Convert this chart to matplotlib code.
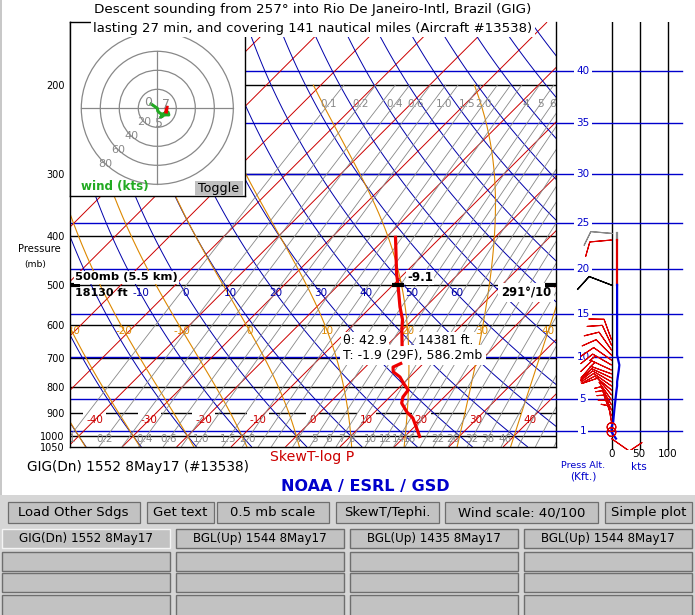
import numpy as np
import matplotlib
matplotlib.use("Agg")
import matplotlib.pyplot as plt
from matplotlib.patches import Rectangle, Circle
import matplotlib.transforms as mtransforms

plt.rcParams['font.family'] = ['DejaVu Sans']

# ---------------- data ----------------
title1 = "Descent sounding from 257\u00b0 into Rio De Janeiro-Intl, Brazil (GIG)"
title2 = "lasting 27 min, and covering 141 nautical miles (Aircraft #13538)"
station_label = "GIG(Dn) 1552 8May17 (#13538)"

pressure_ticks = [200, 300, 400, 500, 600, 700, 800, 900, 1000, 1050]
isobars = [200, 300, 400, 500, 600, 700, 800, 900, 1000]
alt_kft = [1, 5, 10, 15, 20, 25, 30, 35, 40]
isotherms = list(range(-130, 60, 10))
isotherm_labels = [-40, -30, -20, -10, 0, 10, 20, 30, 40]
theta_lines = list(range(-50, 170, 10))
theta_labels = [-10, 0, 10, 20, 30, 40, 50, 60, 70]
thetaw_lines = list(range(-40, 60, 10))
thetaw_labels = [-30, -20, -10, 0, 10, 20, 30, 40]
mix_lines = [0.1, 0.2, 0.3, 0.4, 0.6, 0.8, 1.0, 1.5, 2.0, 2.5, 3, 4, 5, 6, 7, 8,
             10, 12, 14, 16, 19, 22, 26, 32, 38, 46, 55, 66, 80]
mix_top_labels = [0.1, 0.2, 0.4, 0.6, 1.0, 1.5, 2.0, 4, 5, 6]
mix_bot_labels = [0.1, 0.2, 0.4, 0.6, 1.0, 1.5, 2.0, 4, 5, 6, 7, 8, 10, 12, 14,
                  16, 22, 26, 32, 38, 46]

# temperature trace (mb, degC); NaN = data gap
temp_p = [399, 474, 500, 553, 586.2, 615, 662, np.nan, 715, 729, 745, 763, 784,
          810, 836, 860, 896, 921, 955, 1009]
temp_t = [-18.6, -11.5, -9.1, -4.7, -1.9, -0.1, 2.9, np.nan, 6.0, 5.1, 6.0, 8.2,
          9.9, 12.1, 12.4, 13.3, 15.9, 18.1, 20.1, 23.1]

# winds (mb, deg, kts)
wind_p = [394, 407, 500, 643, 659, 674, 690, 706, 722, 739, 752, 766, 780, 795,
          810, 828, 848, 867, 888, 912, 938, 960, 982, 1012]
wind_dir = [275, 265, 291, 340, 335, 325, 315, 305, 300, 295, 290, 295, 300, 305,
            310, 320, 325, 330, 335, 340, 350, 0, 0, 125]
wind_spd = [10, 10, 10, 10, 10, 10, 10, 12, 14, 13, 12, 11, 10, 10, 9, 8, 7, 6, 5,
            4, 3, 0, 0, 8]
hodo_rings = [20, 40, 60, 80]
hodo_marks_kft = [0, 5, 7]
wind_ticks = [0, 50, 100]

# cursor readouts
cursor_p, cursor_km, cursor_ft, cursor_T = 500, 5.5, 18130, -9.1
cursor_dir, cursor_spd = 291, 10
probe_theta, probe_ft, probe_T, probe_F, probe_p = 42.9, 14381, -1.9, 29, 586.2

buttons_row1 = ["Load Other Sdgs", "Get text", "0.5 mb scale", "SkewT/Tephi.",
                "Wind scale: 40/100", "Simple plot"]
buttons_row2 = ["GIG(Dn) 1552 8May17", "BGL(Up) 1544 8May17",
                "BGL(Up) 1435 8May17", "BGL(Up) 1544 8May17"]

# ---------------- helpers ----------------
W, H = 695, 615
fig = plt.figure(figsize=(W / 100, H / 100), dpi=100)
fig.patch.set_facecolor('white')
renderer = fig.canvas.get_renderer()
PX = mtransforms.Affine2D().scale(1 / W, -1 / H).translate(0, 1) + fig.transFigure

RED = '#cc0000'
BLUE = '#0000aa'
ABLUE = '#0000cc'
ORANGE = '#dd8800'
GRAY = '#888888'

Y1000, PXLN = 436.0, 218.0      # pixel row of 1000 mb, pixels per ln(p)
X0, PXDEG = 296.4, 5.442        # pixel col of 0C at 1000 mb, pixels per degC
SKEW = PXLN / PXDEG


def ypx(p):
    return Y1000 - PXLN * np.log(1000.0 / p)


def skx(t, p):
    return np.asarray(t) + SKEW * np.log(1000.0 / np.asarray(p))


def fit(t, size, width):
    if width is not None:
        bb = t.get_window_extent(renderer=renderer)
        t.set_fontsize(size * width / bb.width)
    return t


def ftext(x, y, s, size=9, width=None, ax=None, **kw):
    kw.setdefault('ha', 'left')
    kw.setdefault('va', 'center')
    tgt = ax if ax is not None else fig
    t = tgt.text(x, y, s, fontsize=size, transform=PX, **kw)
    return fit(t, size, width)


def frect(x0, y0, x1, y1, **kw):
    r = Rectangle((x0, y1), x1 - x0, y0 - y1, transform=PX, **kw)
    fig.add_artist(r)
    return r


def std_p(kft):
    z = kft * 304.8
    if z <= 11000:
        return 1013.25 * (1 - 2.25577e-5 * z) ** 5.25588
    return 226.32 * np.exp(-(z - 11000) / 6341.62)


def sat_vp(tc):
    return 6.112 * np.exp(17.67 * tc / (tc + 243.5))


def dewpt_from_e(e):
    l = np.log(e / 6.112)
    return 243.5 * l / (17.67 - l)


Rd, Cp, Lv, EPS = 287.04, 1005.7, 2.501e6, 0.622


def moist_rate(tk, p):
    e = sat_vp(tk - 273.15)
    rs = EPS * e / (p - e)
    return (Rd * tk + Lv * rs) / (Cp + Lv * Lv * rs * EPS / (Rd * tk * tk))


def integ(t0, grid):
    T = [t0]
    for i in range(len(grid) - 1):
        l0, l1 = np.log(grid[i]), np.log(grid[i + 1])
        h = l1 - l0
        t = T[-1]
        k1 = moist_rate(t, np.exp(l0))
        k2 = moist_rate(t + h * k1 / 2, np.exp(l0 + h / 2))
        k3 = moist_rate(t + h * k2 / 2, np.exp(l0 + h / 2))
        k4 = moist_rate(t + h * k3, np.exp(l1))
        T.append(t + h * (k1 + 2 * k2 + 2 * k3 + k4) / 6)
    return np.array(T)


def moist_profile(thw, p_top=200.0, p_bot=1050.0):
    up = np.geomspace(1000.0, p_top, 160)
    dn = np.geomspace(1000.0, p_bot, 10)
    tu = integ(thw + 273.15, up)
    td = integ(thw + 273.15, dn)
    P = np.concatenate([dn[::-1], up[1:]])
    T = np.concatenate([td[::-1], tu[1:]]) - 273.15
    return P, T


def mix_label(w):
    return f"{w:.1f}" if w < 1 or w in (1.0, 1.5, 2.0) else f"{w:g}"


# ---------------- main skew-T axes ----------------
top_px, bot_px = ypx(150.0), ypx(1050.0)
ax = fig.add_axes([70 / W, 1 - bot_px / H, 486 / W, (bot_px - top_px) / H])
ax.set_yscale('log')
ax.set_ylim(1050, 150)
XL, XR = (70 - X0) / PXDEG, (556 - X0) / PXDEG
ax.set_xlim(XL, XR)
ax.set_xticks([])
ax.yaxis.set_minor_locator(matplotlib.ticker.NullLocator())
ax.set_yticks(pressure_ticks)
ax.set_yticklabels([str(p) for p in pressure_ticks])
ax.tick_params(axis='y', length=0, pad=4, labelsize=7)
ax.spines['top'].set_visible(False)
for s in ['left', 'right', 'bottom']:
    ax.spines[s].set_linewidth(1.0)

pp = np.geomspace(1050, 150, 80)
for t in isotherms:
    ax.plot(skx(t, pp), pp, color=RED, lw=0.7, zorder=2)
for th in theta_lines:
    tt = (th + 273.15) * (pp / 1000.0) ** 0.2857 - 273.15
    ax.plot(skx(tt, pp), pp, color=BLUE, lw=0.7, zorder=2)
for thw in thetaw_lines:
    P, T = moist_profile(thw)
    ax.plot(skx(T, P), P, color=ORANGE, lw=0.8, zorder=2)
pm = np.geomspace(1050, 200, 40)
for w in mix_lines:
    e = w * pm / (622.0 + w)
    ax.plot(skx(dewpt_from_e(e), pm), pm, color=GRAY, lw=0.6, zorder=2)

for p in isobars:
    ax.axhline(p, color='black', lw=1.0, zorder=1)
for z in alt_kft:
    ax.axhline(std_p(z), color=ABLUE, lw=1.0, zorder=1)

# labels
lab_p_iso = 929.0
for t in isotherm_labels:
    ax.text(skx(t, lab_p_iso), lab_p_iso, str(t), color=RED, fontsize=7.5,
            ha='center', va='center', zorder=1.5, clip_on=True,
            bbox=dict(facecolor='white', edgecolor='none', pad=2.2))
lab_p_th = 520.0
for th in theta_labels:
    tt = (th + 273.15) * (lab_p_th / 1000.0) ** 0.2857 - 273.15
    ax.text(skx(tt, lab_p_th), lab_p_th, str(th), color=BLUE, fontsize=7.5,
            ha='center', va='center', zorder=2.5, clip_on=True)
lab_p_w = 617.7
for thw in thetaw_labels:
    P, T = moist_profile(thw, p_top=lab_p_w)
    ax.text(skx(T[-1], lab_p_w), lab_p_w, str(thw), color=ORANGE, fontsize=7.5,
            ha='center', va='center', zorder=2.5, clip_on=True)
for plab, labs in [(218.1, mix_top_labels), (1014.0, mix_bot_labels)]:
    for w in labs:
        e = w * plab / (622.0 + w)
        ax.text(skx(dewpt_from_e(e), plab), plab, mix_label(w),
                color=GRAY, fontsize=7.5, ha='center', va='center', zorder=2.5,
                clip_on=True)

# temperature trace
ax.plot(skx(temp_t, temp_p), temp_p, color='#ee0000', lw=2.3, zorder=4,
        solid_capstyle='butt')

# cursor markers at 500 mb
xc = skx(cursor_T, cursor_p)
ax.plot([xc - 6 / PXDEG, xc + 6 / PXDEG], [cursor_p, cursor_p], color='black',
        lw=3, zorder=5, solid_capstyle='butt')
ax.plot([XL, XL + 10 / PXDEG], [cursor_p, cursor_p], color='black', lw=3,
        zorder=5, solid_capstyle='butt', clip_on=False)
ax.plot([XR - 11 / PXDEG, XR], [cursor_p, cursor_p], color='black', lw=3,
        zorder=6, solid_capstyle='butt', clip_on=False)

wb = dict(facecolor='white', edgecolor='none', pad=1.0)
ftext(75, 277.5, f"{cursor_p}mb ({cursor_km} km)", 9, 103, ax=ax,
      fontweight='bold', zorder=5, bbox=wb)
ftext(75, 292.5, f"{cursor_ft} ft", 9, 53, ax=ax, fontweight='bold', zorder=5)
ftext(407, 277.5, f"{cursor_T}", 9, 26, ax=ax, fontweight='bold', zorder=5,
      bbox=wb)
ftext(501, 292.5, f"{cursor_dir}\u00b0/{cursor_spd}", 9, 51, ax=ax,
      fontweight='bold', zorder=5.5, bbox=dict(facecolor='white',
                                                edgecolor='none', pad=2.0))
ftext(343, 341, f"\u03b8: {probe_theta}", 9, 44, ax=ax, zorder=3,
      bbox=dict(facecolor='white', edgecolor='none', pad=1.5))
ftext(418, 341, f"{probe_ft} ft.", 9, 55, ax=ax, zorder=3,
      bbox=dict(facecolor='white', edgecolor='none', pad=1.5))
ftext(343, 355, f"T: {probe_T} ({probe_F}F), {probe_p}mb", 9, 139, ax=ax,
      zorder=3, bbox=dict(facecolor='white', edgecolor='none', pad=2.5))

# ---------------- wind panel ----------------
wtop, wbot = ypx(150.0), 450.0
pbot_w = 1000.0 * np.exp((wbot - Y1000) / PXLN)
KX0, KPX = 611.5, 0.56
axw = fig.add_axes([556 / W, 1 - wbot / H, 134 / W, (wbot - wtop) / H])
axw.set_yscale('log')
axw.set_ylim(pbot_w, 150)
axw.set_xlim((556 - KX0) / KPX, (690 - KX0) / KPX)
axw.axis('off')
axw.patch.set_alpha(0)
for k in wind_ticks:
    axw.axvline(k, color='black', lw=1.0, zorder=1)
xr_frac = (682 - 556) / 134
klab = (583 - KX0) / KPX
for z in alt_kft:
    axw.axhline(std_p(z), xmin=0, xmax=xr_frac, color=ABLUE, lw=1.0, zorder=1)
    axw.text(klab, std_p(z), str(z), color=ABLUE, fontsize=7.5, ha='center',
             va='center', zorder=2,
             bbox=dict(facecolor='white', edgecolor='none', pad=1.5))

wp = np.array(wind_p, float)
ws = np.array(wind_spd, float)
wd = np.radians(np.array(wind_dir, float))
u = -ws * np.sin(wd)
v = -ws * np.cos(wd)
i500 = list(wind_p).index(cursor_p)
axw.plot(ws[:2], wp[:2], color=GRAY, lw=1.6, zorder=3)
axw.plot(ws[1:i500 + 1], wp[1:i500 + 1], color='#dd0000', lw=1.6, zorder=3)
axw.plot(ws[i500:], wp[i500:], color='#0000dd', lw=1.6, zorder=3)

bsz = dict(height=0.65, width=0.5, spacing=0.16, emptybarb=0.2)
idx_red = [i for i in range(1, len(wp)) if i != i500]
axw.barbs(np.zeros(1), wp[:1], u[:1], v[:1], length=5.6, flip_barb=True,
          barbcolor=GRAY, sizes=bsz, linewidth=0.8, zorder=4)
axw.barbs(np.zeros(len(idx_red)), wp[idx_red], u[idx_red], v[idx_red],
          length=5.6, flip_barb=True, barbcolor='#dd0000', sizes=bsz,
          linewidth=0.8, zorder=4)
axw.barbs([0], [cursor_p], [-cursor_spd * np.sin(np.radians(cursor_dir))],
          [-cursor_spd * np.cos(np.radians(cursor_dir))], length=6.0,
          flip_barb=True, barbcolor='black', sizes=bsz, linewidth=0.9, zorder=5)

for k, xk in zip(wind_ticks, [611.5, 639, 667.5]):
    ftext(xk, 454, str(k), 7.5, ha='center')
ftext(639, 466.5, "kts", 7.5, color=ABLUE, ha='center')
ftext(583, 465, "Press Alt.", 7.5, 44, color=ABLUE, ha='center')
ftext(583, 476.5, "(Kft.)", 7.5, 26, color=ABLUE, ha='center')

# ---------------- hodograph ----------------
HS = 0.95
hcx, hcy = 157.3, 108.3
hod = fig.add_axes([70 / W, 1 - 196 / H, 175 / W, 174 / H])
hod.set_zorder(5)
hod.set_xlim(-(hcx - 70) / HS, (245 - hcx) / HS)
hod.set_ylim(-(196 - hcy) / HS, (hcy - 22) / HS)
hod.set_xticks([])
hod.set_yticks([])
for s in hod.spines.values():
    s.set_linewidth(1.0)
for r in hodo_rings:
    hod.add_patch(Circle((0, 0), r, fill=False, edgecolor='#888888', lw=0.9))
    a = np.radians(227)
    hod.text(r * np.cos(a), r * np.sin(a), str(r), color='#888888', fontsize=8,
             ha='center', va='center')
hod.plot([-80, 80], [0, 0], color='#888888', lw=0.9)
hod.plot([0, 0], [-80, 60], color='#888888', lw=0.9)
hod.plot(u[i500:], v[i500:], color='#22aa22', lw=2.2, zorder=3)
hod.plot(u[1:i500 + 1], v[1:i500 + 1], color='#ee0000', lw=2.6, zorder=4)
lp = np.log(wp)
offs = {0: (-2.5, 1.5), 5: (-2.5, -9.5), 7: (1.0, 9.0)}
for z in hodo_marks_kft:
    pz = std_p(z) if z > 0 else wp[-1]
    uz = np.interp(np.log(pz), lp, u)
    vz = np.interp(np.log(pz), lp, v)
    dx, dy = offs[z]
    hod.text(uz + dx / HS, vz + dy / HS, str(z), color='#888888', fontsize=9,
             ha='center', va='center', zorder=5)

ftext(81, 186.5, "wind (kts)", 9.5, 68, color='#22aa22', fontweight='bold',
      zorder=12)
frect(195, 181, 243, 196, facecolor='#c0c0c0', edgecolor='none', zorder=11)
ftext(219, 188.5, "Toggle", 9, 41, ha='center', zorder=12)

# ---------------- titles & captions ----------------
ftext(313, 9.5, title1, 9.5, 440, ha='center', zorder=12)
ftext(313, 28.5, title2, 9.5, 442, ha='center', zorder=12,
      bbox=dict(facecolor='white', edgecolor='none', pad=1.5))
ftext(39, 249, "Pressure", 7, 43, ha='center')
ftext(35, 264, "(mb)", 7, 22, ha='center')
ftext(312.5, 457.5, "SkewT-log P", 10, 84, color='#cc0000', ha='center')
ftext(27, 467, station_label, 10, 222)
ftext(365, 486.5, "NOAA / ESRL / GSD", 12, 168, color=ABLUE,
      fontweight='bold', ha='center')
frect(0, 0, 2, 495, facecolor='#c8c8c8', edgecolor='none', zorder=12)

# ---------------- GUI buttons ----------------
frect(0, 495, 695, 615, facecolor='#d6d6d6', edgecolor='none', zorder=1)
row1 = [(7.5, 140), (147, 214), (217, 329), (336, 439), (445, 598), (605, 692)]
for (x0, x1), lab in zip(row1, buttons_row1):
    frect(x0, 502, x1, 523, facecolor='#c2c2c2', edgecolor='#6e6e6e', lw=0.9,
          zorder=2)
    ftext((x0 + x1) / 2, 512.5, lab, 9.5, ha='center', zorder=3)
cols = [(2, 170), (176, 344), (350, 518), (524, 692)]
rows = [(529, 548), (552, 571), (573, 592), (595, 616)]
for ri, (y0, y1) in enumerate(rows):
    for ci, (x0, x1) in enumerate(cols):
        ec = '#f4f4f4' if (ri == 0 and ci == 0) else '#6e6e6e'
        frect(x0, y0, x1, y1, facecolor='#c2c2c2', edgecolor=ec, lw=1.0,
              zorder=2)
        if ri == 0:
            ftext((x0 + x1) / 2, (y0 + y1) / 2, buttons_row2[ci], 9.5, 135,
                  ha='center', zorder=3)

fig.savefig("out.png", dpi=100)
